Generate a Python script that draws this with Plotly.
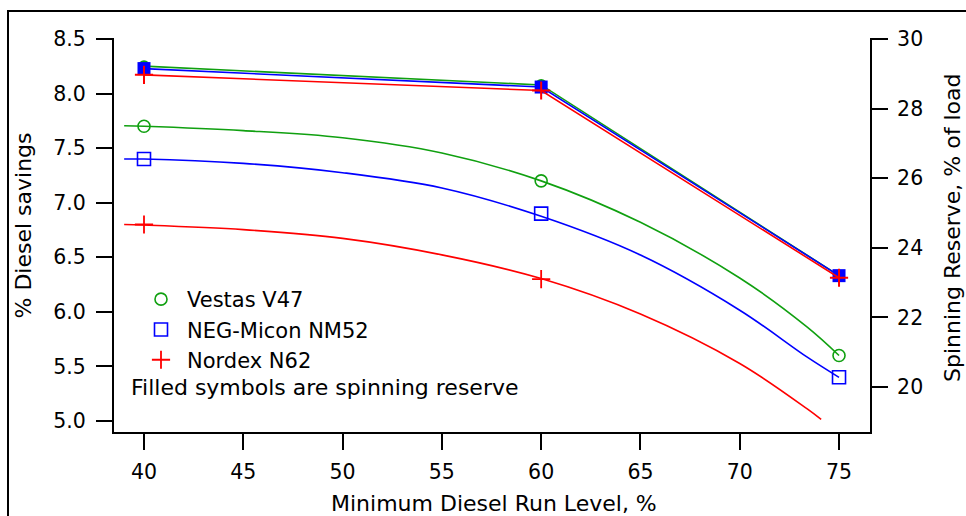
import plotly.graph_objects as go

# ---------------- data ----------------
run_levels = [40, 60, 75]

# % diesel savings (left axis): marker values
vestas_savings = [7.70, 7.20, 5.60]
negmicon_savings = [7.40, 6.90, 5.40]
nordex_run_levels = [40, 60]
nordex_savings = [6.80, 6.30]

# % diesel savings: fitted curves
curve_x = [39, 40, 45, 50, 55, 60, 65, 70, 73.4, 75]
vestas_curve = [7.705, 7.70, 7.66, 7.595, 7.455, 7.20, 6.82, 6.31, 5.86, 5.60]
negmicon_curve = [7.40, 7.40, 7.36, 7.275, 7.135, 6.875, 6.52, 6.015, 5.585, 5.40]
nordex_curve_x = [39, 40, 45, 50, 55, 60, 65, 70, 73.4, 74.1]
nordex_curve = [6.80, 6.795, 6.753, 6.673, 6.522, 6.305, 5.98, 5.527, 5.11, 5.014]

# spinning reserve, % of load (right axis)
vestas_reserve = [29.22, 28.68, 23.20]
negmicon_reserve = [29.15, 28.62, 23.20]
nordex_reserve = [28.97, 28.52, 23.14]

names = ["Vestas V47", "NEG-Micon NM52", "Nordex N62"]
note_text = "Filled symbols are spinning reserve"
x_title = "Minimum Diesel Run Level, %"
y_title = "% Diesel savings"
y2_title = "Spinning Reserve, % of load"

GREEN = "#10a010"
BLUE = "#0000ff"
RED = "#ff0000"

# ---------------- geometry helpers ----------------
W, H = 966, 516
ML, MR, MT, MB = 114, 96, 38, 84
PW, PH = W - ML - MR, H - MT - MB


def px(xp):
    return (xp - ML) / PW


def py(yp):
    return (H - MB - yp) / PH


FONT = "DejaVu Sans"

fig = go.Figure()

# fitted savings curves (no legend)
for cx, cy, col in [(curve_x, vestas_curve, GREEN),
                    (curve_x, negmicon_curve, BLUE),
                    (nordex_curve_x, nordex_curve, RED)]:
    fig.add_trace(go.Scatter(x=cx, y=cy, mode="lines",
                             line=dict(color=col, width=1.6, shape="spline", smoothing=1.0),
                             showlegend=False, hoverinfo="skip"))

# savings markers (open symbols, in legend)
fig.add_trace(go.Scatter(x=run_levels, y=vestas_savings, mode="markers", name=names[0],
                         marker=dict(symbol="circle-open", size=12, color=GREEN, line=dict(width=1.6, color=GREEN))))
fig.add_trace(go.Scatter(x=run_levels, y=negmicon_savings, mode="markers", name=names[1],
                         marker=dict(symbol="square-open", size=13, color=BLUE, line=dict(width=1.6, color=BLUE))))
fig.add_trace(go.Scatter(x=nordex_run_levels, y=nordex_savings, mode="markers", name=names[2],
                         marker=dict(symbol="cross-thin", size=13, color=RED, line=dict(width=1.8, color=RED))))

# spinning reserve (filled symbols, right axis)
fig.add_trace(go.Scatter(x=run_levels, y=vestas_reserve, mode="lines+markers", yaxis="y2", showlegend=False,
                         line=dict(color=GREEN, width=1.6),
                         marker=dict(symbol="circle", size=12, color=GREEN)))
fig.add_trace(go.Scatter(x=run_levels, y=negmicon_reserve, mode="lines+markers", yaxis="y2", showlegend=False,
                         line=dict(color=BLUE, width=1.6),
                         marker=dict(symbol="square", size=13, color=BLUE)))
fig.add_trace(go.Scatter(x=run_levels, y=nordex_reserve, mode="lines+markers", yaxis="y2", showlegend=False,
                         line=dict(color=RED, width=1.6),
                         marker=dict(symbol="cross-thin", size=13, color=RED, line=dict(width=2, color=RED))))

axis_common = dict(showline=True, linewidth=2, linecolor="black", ticks="outside", ticklen=16,
                   tickwidth=2, tickcolor="black", showgrid=False, zeroline=False,
                   tickfont=dict(family=FONT, size=20.5, color="black"))

fig.update_layout(
    width=W, height=H,
    margin=dict(l=ML, r=MR, t=MT, b=MB, pad=0),
    paper_bgcolor="white", plot_bgcolor="white",
    font=dict(family=FONT, size=20.5, color="black"),
    xaxis=dict(range=[38.489, 76.56], tick0=40, dtick=5, ticklabelstandoff=4, **axis_common),
    yaxis=dict(range=[4.899, 8.509], tick0=5, dtick=0.5, tickformat=".1f", ticklabelstandoff=6, **axis_common),
    yaxis2=dict(range=[18.707, 30.029], tick0=20, dtick=2, overlaying="y", side="right",
                ticklabelstandoff=5, **axis_common),
    legend=dict(x=px(135), y=py(279), xanchor="left", yanchor="top", bgcolor="rgba(0,0,0,0)",
                itemwidth=42,
                font=dict(family=FONT, size=21, color="black"), borderwidth=0),
    shapes=[dict(type="rect", xref="paper", yref="paper", x0=px(8), y0=py(11), x1=px(1200), y1=py(700),
                 line=dict(color="black", width=2), fillcolor="rgba(0,0,0,0)", layer="below")],
    annotations=[
        dict(text=note_text, xref="paper", yref="paper", x=px(129), y=py(387), xanchor="left", yanchor="middle",
             showarrow=False, font=dict(family=FONT, size=22, color="black")),
        dict(text=x_title, xref="paper", yref="paper", x=px(494.5), y=py(503), xanchor="center", yanchor="middle",
             showarrow=False, font=dict(family=FONT, size=22, color="black")),
        dict(text=y_title, xref="paper", yref="paper", x=px(23), y=py(225.5), xanchor="center", yanchor="middle",
             textangle=-90, showarrow=False, font=dict(family=FONT, size=22, color="black")),
        dict(text=y2_title, xref="paper", yref="paper", x=px(952), y=py(228), xanchor="center", yanchor="middle",
             textangle=-90, showarrow=False, font=dict(family=FONT, size=22, color="black")),
    ],
)

fig.write_html("out.html")
